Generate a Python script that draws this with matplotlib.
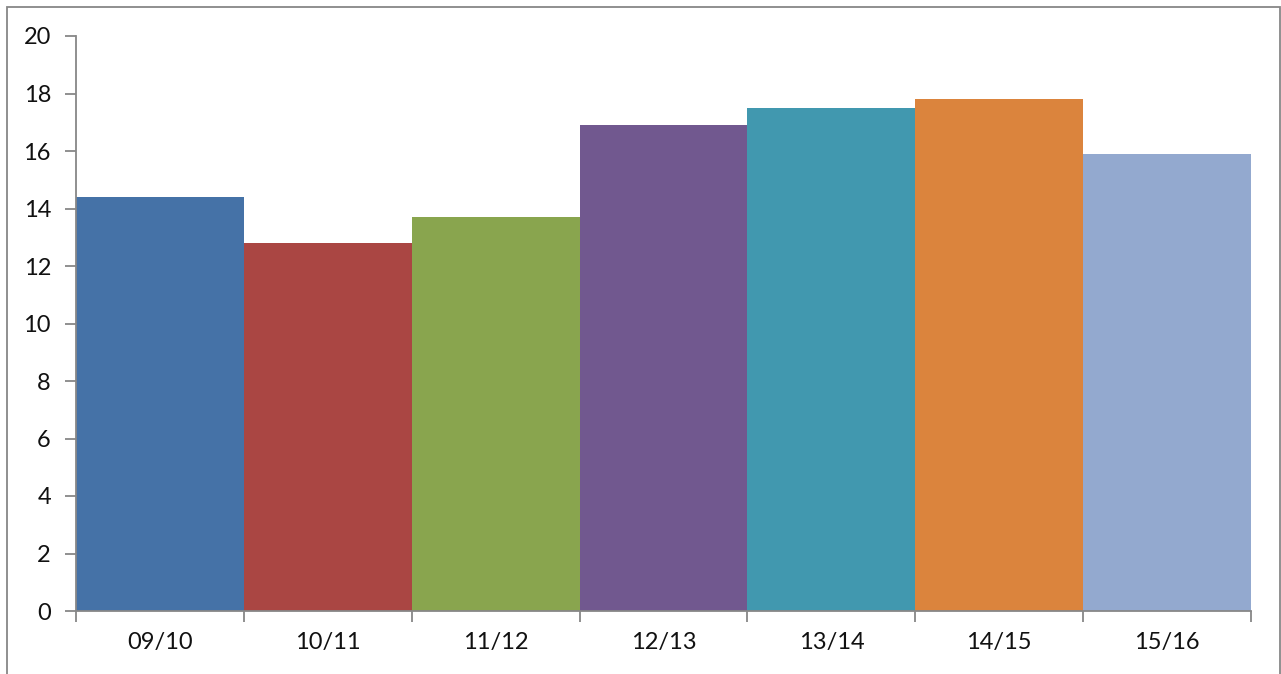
import matplotlib.pyplot as plt
import matplotlib.patches as mpatches
import numpy as np

# season labels and values
seasons = ["09/10", "10/11", "11/12", "12/13", "13/14", "14/15", "15/16"]
values = [14.4, 12.8, 13.7, 16.9, 17.5, 17.8, 15.9]
colors = ["#4572A7", "#AA4643", "#89A54E", "#71588F", "#4198AF", "#DB843D", "#93A9CF"]

plt.rcParams['font.family'] = ['Lato', 'DejaVu Sans']

fig = plt.figure(figsize=(12.81, 6.74), dpi=100)
ax = fig.add_axes([76/1281, 1-611/674, (1251-76)/1281, (611-36)/674])

x = np.arange(len(seasons))
ax.bar(x, values, width=1.0, color=colors, linewidth=0)

ax.set_xlim(-0.5, len(seasons)-0.5)
ax.set_ylim(0, 20)
ax.set_yticks(np.arange(0, 21, 2))

ax.set_xticks(x)
ax.set_xticklabels(seasons)
ax.set_xticks(np.arange(-0.5, len(seasons), 1), minor=True)
ax.tick_params(axis='x', which='major', length=0, pad=15, labelsize=17, labelcolor='#111111')
ax.tick_params(axis='x', which='minor', length=8, width=1.3, color='#878787')
ax.tick_params(axis='y', length=8, width=1.3, color='#878787', labelsize=17, pad=10, labelcolor='#111111')

for s in ['top', 'right']:
    ax.spines[s].set_visible(False)
for s in ['left', 'bottom']:
    ax.spines[s].set_color('#878787')
    ax.spines[s].set_linewidth(1.3)

# outer chart border
border = mpatches.Rectangle((7/1281, -0.02), (1280-7)/1281, 1-7/674+0.02,
                            transform=fig.transFigure, fill=False,
                            edgecolor='#878787', linewidth=1.3)
fig.patches.append(border)

plt.savefig("out.png", dpi=100)
